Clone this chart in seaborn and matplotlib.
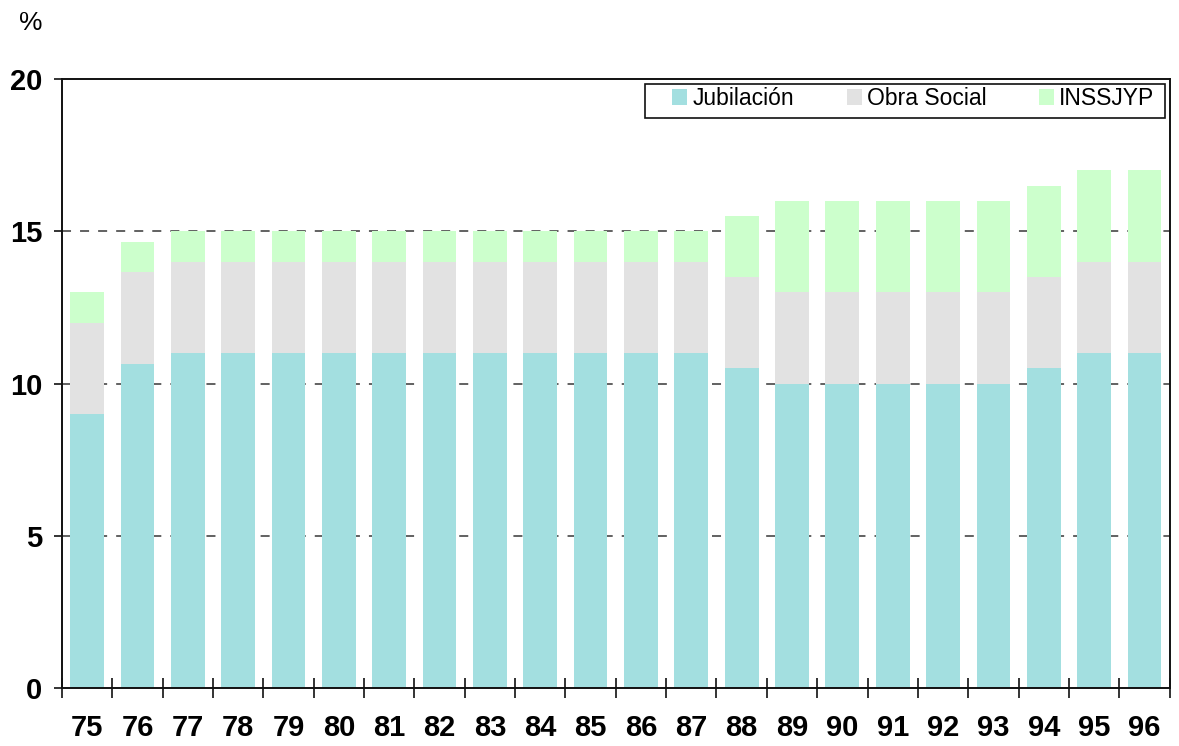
import matplotlib
matplotlib.use('Agg')
import matplotlib.pyplot as plt
import seaborn as sns
import numpy as np
import pandas as pd
from matplotlib.patches import Patch, Rectangle

# data (percent of salary)
years = ['75', '76', '77', '78', '79', '80', '81', '82', '83', '84', '85',
         '86', '87', '88', '89', '90', '91', '92', '93', '94', '95', '96']
jubilacion = [9.0, 10.65, 11, 11, 11, 11, 11, 11, 11, 11, 11,
              11, 11, 10.5, 10, 10, 10, 10, 10, 10.5, 11, 11]
obra_social = [3.0, 3.0, 3, 3, 3, 3, 3, 3, 3, 3, 3,
               3, 3, 3, 3, 3, 3, 3, 3, 3, 3, 3]
inssjyp = [1.0, 1.0, 1, 1, 1, 1, 1, 1, 1, 1, 1,
           1, 1, 2, 3, 3, 3, 3, 3, 3, 3, 3]

colors = {'Jubilación': '#A3DFE0', 'Obra Social': '#E2E2E2', 'INSSJYP': '#CCFFCC'}

df = pd.DataFrame({'year': years, 'Jubilación': jubilacion,
                   'Obra Social': obra_social, 'INSSJYP': inssjyp})
df['cum_os'] = df['Jubilación'] + df['Obra Social']
df['cum_total'] = df['cum_os'] + df['INSSJYP']

sns.set_style('white')
plt.rcParams['font.family'] = ['Liberation Sans', 'DejaVu Sans']
plt.rcParams['text.color'] = 'black'
plt.rcParams['xtick.color'] = 'black'
plt.rcParams['ytick.color'] = 'black'

W, H = 1179, 746
fig = plt.figure(figsize=(W / 100, H / 100), dpi=100)
ax = fig.add_axes([0.0526, 0.0777, 0.9394, 0.8163])

# stacked bars drawn as overlapping cumulative bars
bw = 0.67
sns.barplot(data=df, x='year', y='cum_total', order=years, color=colors['INSSJYP'],
            saturation=1, width=bw, ax=ax, linewidth=0)
sns.barplot(data=df, x='year', y='cum_os', order=years, color=colors['Obra Social'],
            saturation=1, width=bw, ax=ax, linewidth=0)
sns.barplot(data=df, x='year', y='Jubilación', order=years, color=colors['Jubilación'],
            saturation=1, width=bw, ax=ax, linewidth=0)

ax.set_xlim(-0.5, len(years) - 0.5)
ax.set_ylim(0, 20)
ax.set_yticks([0, 5, 10, 15, 20])
ax.set_xlabel('')
ax.set_ylabel('')

# dashed grid behind bars
ax.set_axisbelow(True)
for v in [5, 10, 15]:
    ax.axhline(v, color='#555555', lw=1.3, dashes=(5, 5), zorder=0)

for s in ax.spines.values():
    s.set_visible(True)
    s.set_color('#111111')
    s.set_linewidth(1.4)

ax.tick_params(axis='x', which='major', length=0, pad=19, labelsize=21, labelcolor='black')
ax.set_xticks(np.arange(-0.5, len(years)), minor=True)
ax.tick_params(axis='x', which='minor', direction='inout', length=14, width=1.2,
               color='#111111', bottom=True)
ax.tick_params(axis='y', which='major', direction='out', length=6, width=1.2,
               color='#111111', left=True, pad=8, labelsize=21, labelcolor='black')
for lab in ax.get_xticklabels() + ax.get_yticklabels():
    lab.set_fontweight('bold')

fig.text(0.016, 0.953, '%', fontsize=19, ha='left', va='bottom', color='black')

# legend: entries without frame, box drawn separately
handles = [Patch(facecolor=colors[k], edgecolor='none', label=k) for k in colors]
leg = fig.legend(handles=handles, ncol=3, loc='upper left',
                 bbox_to_anchor=(672 / W, 1 - 87 / H), frameon=False,
                 fontsize=16.5, handlelength=0.66, handleheight=0.66,
                 handletextpad=0.22, columnspacing=2.3, borderpad=0, borderaxespad=0)
for t in leg.get_texts():
    t.set_color('black')
fig.patches.append(Rectangle((645 / W, 1 - 118 / H), 520 / W, 34 / H,
                             transform=fig.transFigure, facecolor='white',
                             edgecolor='#111111', linewidth=1.2, zorder=3))

fig.savefig('out.png', dpi=100)
